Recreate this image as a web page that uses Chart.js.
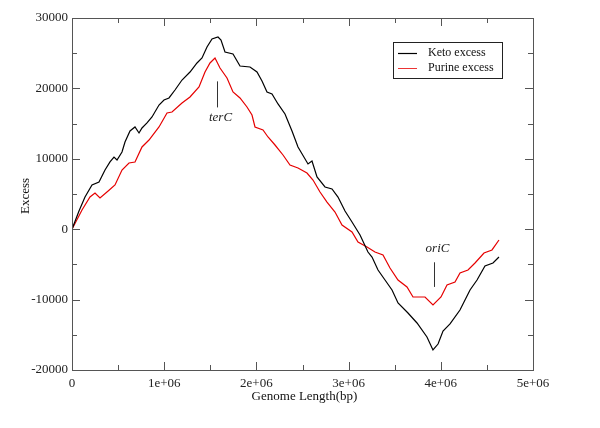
<!DOCTYPE html>
<html>
<head>
<meta charset="utf-8">
<script src="https://cdn.jsdelivr.net/npm/chart.js@4/dist/chart.umd.min.js"></script>
<style>
  body { margin: 0; background: #fff; }
  canvas { display: block; }
</style>
</head>
<body>
<canvas id="excessChart" width="600" height="428"></canvas>
<script>
// values (x in bp)
const ketoX = [0, 75900, 141000, 216900, 292800, 357900, 412100, 455500, 488100, 542300, 574800, 629100, 683300, 726700, 759200, 813500, 867700, 943600, 997800, 1052100, 1117100, 1193100, 1279800, 1355800, 1410000, 1464200, 1518400, 1583500, 1616100, 1659400, 1746200, 1822100, 1930600, 2006500, 2060700, 2115000, 2169200, 2234300, 2310200, 2386100, 2451200, 2559700, 2603000, 2657300, 2744000, 2820000, 2885000, 2961000, 3037000, 3124000, 3210000, 3254000, 3319000, 3395000, 3471000, 3536000, 3644000, 3742000, 3850000, 3915000, 3970000, 4024000, 4100000, 4208000, 4317000, 4393000, 4479000, 4566000, 4631000];
const ketoY = [0, 2590, 4570, 6280, 6700, 8410, 9550, 10250, 9830, 10970, 12390, 13950, 14520, 13670, 14380, 15090, 15940, 17640, 18350, 18640, 19770, 21190, 22330, 23610, 24320, 25880, 27020, 27300, 26870, 25170, 24890, 23180, 23040, 22330, 21050, 19490, 19210, 17790, 16370, 13950, 11680, 9270, 9690, 7420, 6000, 5710, 4570, 2590, 1020, -830, -3240, -3950, -5800, -7220, -8640, -10480, -11900, -13320, -15310, -17160, -16310, -14460, -13460, -11480, -8640, -7220, -5230, -4800, -3950];

const purineX = [0, 108500, 195200, 249500, 303700, 401300, 466400, 542300, 618200, 683300, 759200, 835100, 943600, 1030400, 1084600, 1193100, 1279800, 1377400, 1442500, 1496700, 1551000, 1605200, 1681100, 1746200, 1822100, 1898000, 1952300, 1984800, 2071600, 2125800, 2201700, 2288500, 2364400, 2451200, 2548800, 2613900, 2689800, 2765700, 2852500, 2928400, 3036900, 3102000, 3199600, 3286300, 3373100, 3449000, 3535800, 3633400, 3698500, 3828600, 3915400, 4002200, 4067300, 4154000, 4208200, 4295000, 4370900, 4468500, 4555300, 4631000];
const purineY = [0, 2730, 4570, 5140, 4430, 5540, 6280, 8410, 9400, 9550, 11680, 12670, 14520, 16510, 16650, 17930, 18780, 20200, 22330, 23610, 24320, 22900, 21480, 19490, 18640, 17360, 16220, 14520, 14090, 13100, 11960, 10540, 9120, 8690, 7980, 6990, 5280, 3860, 2440, 600, -400, -1820, -2530, -3240, -3670, -5510, -7220, -8210, -9630, -9630, -10770, -9630, -7930, -7500, -6220, -5800, -4800, -3380, -2950, -1530];

const xTicks = [0, 1000000, 2000000, 3000000, 4000000, 5000000];
const xMinorTicks = [500000, 1500000, 2500000, 3500000, 4500000];
const yTicks = [-20000, -10000, 0, 10000, 20000, 30000];
const yMinorTicks = [-15000, -5000, 5000, 15000, 25000];

const seriesNames = ['Keto excess', 'Purine excess'];
const seriesColors = ['#000000', '#e60000'];

// markers for terC / oriC
const markers = [
  { label: 'terC', x: 1570000, yTop: 21000, yBottom: 17300, textY: 15800 },
  { label: 'oriC', x: 3930000, yTop: -4700, yBottom: -8200, textY: -2800 }
];

const serif = '"Liberation Serif", "DejaVu Serif", serif';

function toPoints(xs, ys) {
  const pts = [];
  for (let i = 0; i < xs.length; i++) {
    pts.push({ x: xs[i], y: ys[i] });
  }
  return pts;
}

// frame, inward ticks, titles, markers and legend
const decorations = {
  id: 'decorations',
  afterDatasetsDraw(chart) {
    const ctx = chart.ctx;
    const area = chart.chartArea;
    const xs = chart.scales.x;
    const ys = chart.scales.y;

    ctx.save();
    ctx.strokeStyle = '#555';
    ctx.lineWidth = 1;
    ctx.strokeRect(area.left + 0.5, area.top + 0.5, area.right - area.left, area.bottom - area.top);

    function xTick(v, len) {
      const px = Math.round(xs.getPixelForValue(v)) + 0.5;
      ctx.beginPath();
      ctx.moveTo(px, area.bottom);
      ctx.lineTo(px, area.bottom - len);
      ctx.moveTo(px, area.top);
      ctx.lineTo(px, area.top + len);
      ctx.stroke();
    }
    function yTick(v, len) {
      const py = Math.round(ys.getPixelForValue(v)) + 0.5;
      ctx.beginPath();
      ctx.moveTo(area.left, py);
      ctx.lineTo(area.left + len, py);
      ctx.moveTo(area.right, py);
      ctx.lineTo(area.right - len, py);
      ctx.stroke();
    }
    xTicks.forEach(v => xTick(v, 8));
    xMinorTicks.forEach(v => xTick(v, 5));
    yTicks.forEach(v => yTick(v, 8));
    yMinorTicks.forEach(v => yTick(v, 5));

    // axis titles
    ctx.fillStyle = '#111';
    ctx.font = '13px ' + serif;
    ctx.textAlign = 'center';
    ctx.textBaseline = 'middle';
    ctx.fillText('Genome Length(bp)', (area.left + area.right) / 2 + 2, 397);
    ctx.save();
    ctx.translate(26, 196);
    ctx.rotate(-Math.PI / 2);
    ctx.fillText('Excess', 0, 0);
    ctx.restore();

    // terC / oriC
    markers.forEach(m => {
      const px = Math.round(xs.getPixelForValue(m.x)) + 0.5;
      ctx.strokeStyle = '#333';
      ctx.beginPath();
      ctx.moveTo(px, ys.getPixelForValue(m.yTop));
      ctx.lineTo(px, ys.getPixelForValue(m.yBottom));
      ctx.stroke();
      ctx.font = 'italic 13px ' + serif;
      ctx.fillStyle = '#222';
      ctx.fillText(m.label, px + 3, ys.getPixelForValue(m.textY));
    });

    // legend box
    const lx = 393, ly = 42, lw = 109, lh = 36;
    ctx.fillStyle = '#fff';
    ctx.fillRect(lx, ly, lw, lh);
    ctx.strokeStyle = '#222';
    ctx.strokeRect(lx + 0.5, ly + 0.5, lw, lh);
    ctx.font = '12px ' + serif;
    ctx.textAlign = 'left';
    for (let i = 0; i < seriesNames.length; i++) {
      const y = ly + 11 + i * 15;
      ctx.strokeStyle = seriesColors[i];
      ctx.lineWidth = i === 0 ? 1.2 : 0.8;
      ctx.beginPath();
      ctx.moveTo(lx + 5, y + 0.5);
      ctx.lineTo(lx + 24, y + 0.5);
      ctx.stroke();
      ctx.fillStyle = '#111';
      ctx.fillText(seriesNames[i], lx + 35, y);
    }
    ctx.restore();
  }
};

const ctxExcess = document.getElementById('excessChart');

new Chart(ctxExcess, {
  type: 'scatter',
  data: {
    datasets: [
      {
        label: seriesNames[0],
        data: toPoints(ketoX, ketoY),
        borderColor: seriesColors[0],
        borderWidth: 1.2,
        showLine: true,
        pointRadius: 0,
        tension: 0
      },
      {
        label: seriesNames[1],
        data: toPoints(purineX, purineY),
        borderColor: seriesColors[1],
        borderWidth: 1.2,
        showLine: true,
        pointRadius: 0,
        tension: 0
      }
    ]
  },
  options: {
    responsive: false,
    animation: false,
    layout: { padding: { top: 18, right: 67, bottom: 0, left: 0 } },
    plugins: {
      legend: { display: false },
      tooltip: { enabled: false }
    },
    scales: {
      x: {
        type: 'linear',
        min: 0,
        max: 5000000,
        afterFit: function (scale) { scale.height = 58; },
        afterBuildTicks: function (scale) { scale.ticks = xTicks.map(v => ({ value: v })); },
        grid: { display: false, drawTicks: false },
        border: { display: false },
        ticks: {
          padding: 6,
          color: '#222',
          font: { family: serif, size: 13 },
          maxRotation: 0,
          autoSkip: false,
          callback: function (v) { return v === 0 ? '0' : (v / 1000000) + 'e+06'; }
        }
      },
      y: {
        min: -20000,
        max: 30000,
        afterFit: function (scale) { scale.width = 72; },
        afterBuildTicks: function (scale) { scale.ticks = yTicks.map(v => ({ value: v })); },
        grid: { display: false, drawTicks: false },
        border: { display: false },
        ticks: {
          padding: 4,
          color: '#222',
          font: { family: serif, size: 13 },
          callback: function (v) { return String(v); }
        }
      }
    }
  },
  plugins: [decorations]
});
</script>
</body>
</html>
